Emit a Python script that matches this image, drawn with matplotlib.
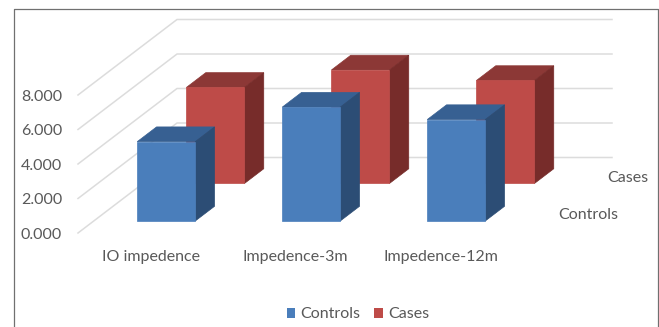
import matplotlib
matplotlib.use('Agg')
import matplotlib.pyplot as plt
from matplotlib.patches import Polygon, Patch

plt.rcParams['font.family'] = ['Lato', 'DejaVu Sans']

categories = ['IO impedence', 'Impedence-3m', 'Impedence-12m']
series_names = ['Controls', 'Cases']
controls = [4.6, 6.6, 5.88]
cases = [5.57, 6.58, 5.97]
y_ticks = [0, 2, 4, 6, 8]

W, H = 659, 327
PX_X = 145.0    # pixels per category
PX_Y = 17.25    # pixels per value unit
DEPTH_X = 99 / PX_X      # full floor depth, in category units
DEPTH_Y = 75.5 / PX_Y    # full floor depth, in value units
BAR_W = 0.40
TEXT = '#595959'
GRID = '#dcdcdc'

fig = plt.figure(figsize=(W / 100, H / 100), dpi=100)
ax = fig.add_axes([0, 0, 1, 1])
ax.set_xlim(-150.5 / PX_X, (W - 150.5) / PX_X)
ax.set_ylim((233 - H) / PX_Y, 233 / PX_Y)
ax.axis('off')


# oblique projection: d=0 is the front of the floor, d=1 the back wall
def proj(x, v, d):
    return x + d * DEPTH_X, v + d * DEPTH_Y


def bar3d(i, value, d0, d1, front, top, side):
    x0, x1 = i - BAR_W / 2, i + BAR_W / 2
    faces = [
        ([(x0, value, d0), (x1, value, d0), (x1, value, d1), (x0, value, d1)], top),
        ([(x1, 0, d0), (x1, value, d0), (x1, value, d1), (x1, 0, d1)], side),
        ([(x0, 0, d0), (x1, 0, d0), (x1, value, d0), (x0, value, d0)], front),
    ]
    for pts, color in faces:
        ax.add_patch(Polygon([proj(*p) for p in pts], closed=True, facecolor=color,
                             edgecolor=color, linewidth=0.5, zorder=3 + d0 * -1 + 1))


# gridlines run along the side wall then across the back wall
for v in y_ticks:
    pts = [proj(-0.5, v, 0), proj(-0.5, v, 1), proj(2.5, v, 1)]
    ax.plot([p[0] for p in pts], [p[1] for p in pts], color=GRID, lw=1.1, zorder=1)
    ax.annotate(f'{v:.3f}', xy=proj(-0.5, v, 0), xytext=(-11.5, -1.2), textcoords='offset points',
                ha='right', va='center', fontsize=11.5, color=TEXT)

for i, (ctrl, case) in enumerate(zip(controls, cases)):
    bar3d(i, case, 0.656, 0.851, '#be4b48', '#8c3836', '#772c2a')
for i, (ctrl, case) in enumerate(zip(controls, cases)):
    bar3d(i, ctrl, 0.159, 0.354, '#4a7ebb', '#376092', '#2c4d75')

for i, name in enumerate(categories):
    ax.annotate(name, xy=(i, 0), xytext=(0, -17), textcoords='offset points',
                ha='center', va='center', fontsize=11.5, color=TEXT)

# series names beside the right end of the floor
for name, d in zip(series_names, [0.2565, 0.7535]):
    ax.annotate(name, xy=proj(2.5, 0, d), xytext=(14.5, -1.2), textcoords='offset points',
                ha='left', va='center', fontsize=11.5, color=TEXT)

handles = [Patch(facecolor='#4a7ebb', label=series_names[0]),
           Patch(facecolor='#be4b48', label=series_names[1])]
ax.legend(handles=handles, ncol=2, loc='center', bbox_to_anchor=(358 / W, 1 - 314.5 / H),
          frameon=False, fontsize=11.5, labelcolor=TEXT, handlelength=0.53, handleheight=0.53,
          handletextpad=0.32, columnspacing=0.87, borderpad=0)

# chart frame, open at the bottom edge
fig.add_artist(plt.Line2D([13.5 / W, 13.5 / W, 657.5 / W, 657.5 / W],
                          [0, 1 - 9 / H, 1 - 9 / H, 0], color='#707070', lw=0.9))

fig.savefig('out.png', dpi=100)
